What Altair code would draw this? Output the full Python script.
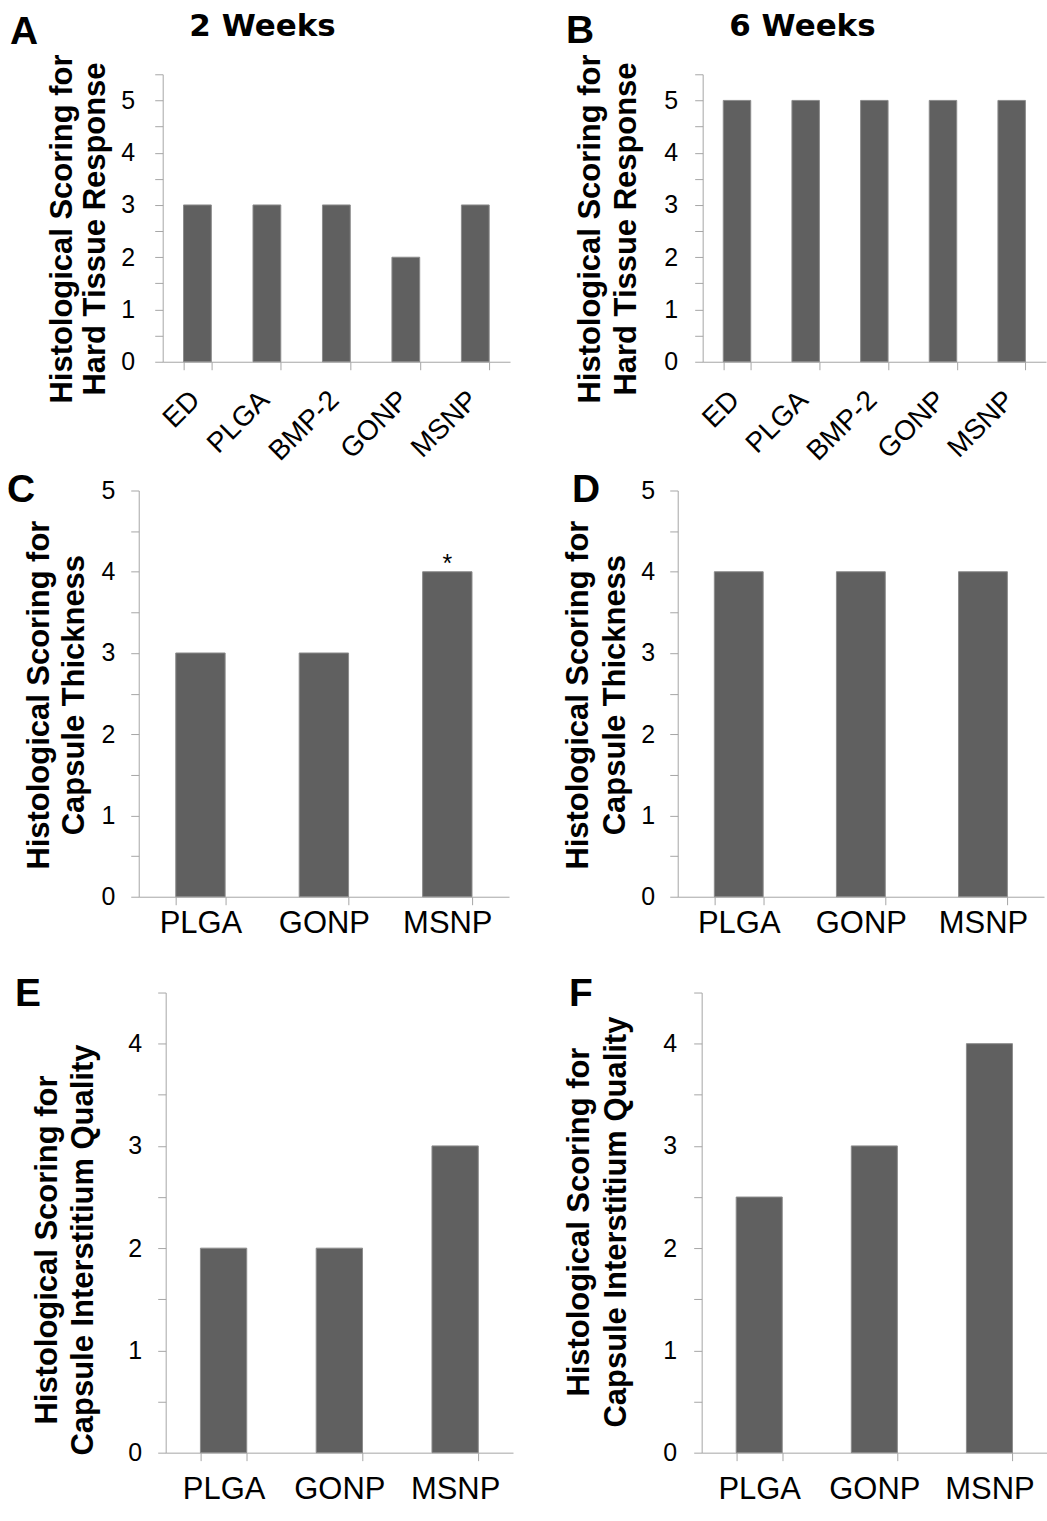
import altair as alt
import pandas as pd

# ---- data ----
cats5 = ["ED", "PLGA", "BMP-2", "GONP", "MSNP"]
cats3 = ["PLGA", "GONP", "MSNP"]
hard_2wk = [3, 3, 3, 2, 3]
hard_6wk = [5, 5, 5, 5, 5]
thick_2wk = [3, 3, 4]
thick_6wk = [4, 4, 4]
inter_2wk = [2, 2, 3]
inter_6wk = [2.5, 3, 4]
thick_2wk_sig = ["", "", "*"]

title_hard = ["Histological Scoring for", "Hard Tissue Response"]
title_thick = ["Histological Scoring for", "Capsule Thickness"]
title_inter = ["Histological Scoring for", "Capsule Interstitium Quality"]

BAR = "#606060"
BAR_EDGE = "#8c8c8c"
AXIS = "#a6a6a6"
FONT = "Liberation Sans"
HEAD_FONT = "DejaVu Sans"


def panel(cats, vals, letter, ytitle, ymax, w, h, letter_x, letter_y,
          line_x, title_y, ylab_pad, xlab_size, angle, xlab_pad,
          heading=None, heading_x=0, sig=None, inset=0):
    df = pd.DataFrame({"cat": cats, "val": vals})
    if sig is not None:
        df["sig"] = sig
    ticks = [i * 0.5 for i in range(int(round(ymax * 2)) + 1)]
    xscale = alt.Scale(paddingInner=0.6, paddingOuter=0.3, range=[inset, w])
    yscale = alt.Scale(domain=[0, ymax], nice=False)
    xaxis = alt.Axis(
        labelAngle=angle,
        labelAlign="right" if angle else "center",
        labelBaseline="top",
        labelOffset=-12 if angle else 0,
        labelFontSize=xlab_size, labelFont=FONT, labelColor="black",
        labelPadding=xlab_pad, tickBand="extent", tickSize=8,
        domainColor=AXIS, tickColor=AXIS, labelOverlap=False,
    )
    yaxis = alt.Axis(
        values=ticks,
        labelExpr="datum.value % 1 == 0 ? format(datum.value, 'd') : ''",
        grid=False, tickSize=8, labelPadding=ylab_pad, offset=-inset,
        labelFontSize=25, labelFont=FONT, labelColor="black",
        domainColor=AXIS, tickColor=AXIS, title=None,
    )
    bars = alt.Chart(df).mark_bar(
        color=BAR, stroke=BAR_EDGE, strokeWidth=1
    ).encode(
        x=alt.X("cat:N", sort=cats, title=None, scale=xscale, axis=xaxis),
        y=alt.Y("val:Q", scale=yscale, axis=yaxis),
    )
    layers = [bars]
    if sig is not None:
        stars = alt.Chart(df).mark_text(
            baseline="alphabetic", fontSize=25, font=FONT, color="black"
        ).encode(
            x=alt.X("cat:N", sort=cats, scale=xscale),
            y=alt.Y("val:Q", scale=yscale),
            text="sig:N",
        )
        layers.append(stars)
    for line, lx in zip(ytitle, line_x):
        tdf = pd.DataFrame({"t": [line]})
        layers.append(
            alt.Chart(tdf).mark_text(
                angle=270, align="center", baseline="middle", fontSize=31,
                fontWeight="bold", font=FONT, color="black",
            ).encode(text="t:N", x=alt.value(lx), y=alt.value(title_y))
        )
    letter_df = pd.DataFrame({"t": [letter]})
    layers.append(
        alt.Chart(letter_df).mark_text(
            align="left", baseline="alphabetic", fontSize=39,
            fontWeight="bold", font=FONT, color="black",
        ).encode(text="t:N", x=alt.value(letter_x), y=alt.value(letter_y))
    )
    if heading:
        head_df = pd.DataFrame({"t": [heading]})
        layers.append(
            alt.Chart(head_df).mark_text(
                align="center", baseline="alphabetic", fontSize=31,
                fontWeight="bold", font=HEAD_FONT, color="black",
            ).encode(text="t:N", x=alt.value(heading_x), y=alt.value(-38))
        )
    return alt.layer(*layers).properties(width=w, height=h)


# left column: all plot origins share x = 139; A and E are inset
A = panel(cats5, hard_2wk, "A", title_hard, 5.5, 372, 288, -129, -30,
          [-75.5, -43], 155, 20, 28, -45, 16, heading="2 Weeks",
          heading_x=124, inset=24)
B = panel(cats5, hard_6wk, "B", title_hard, 5.5, 344, 288, -137, -31,
          [-112, -75.5], 155, 17, 28, -45, 16, heading="6 Weeks",
          heading_x=100)
C = panel(cats3, thick_2wk, "C", title_thick, 5, 371, 407, -132, 12,
          [-99, -63.5], 205, 16, 31, 0, 4, sig=thick_2wk_sig)
D = panel(cats3, thick_6wk, "D", title_thick, 5, 367, 407, -106, 12,
          [-99, -61.5], 205, 15, 31, 0, 4)
E = panel(cats3, inter_2wk, "E", title_inter, 4.5, 375, 461, -124, 13,
          [-90.5, -54.5], 258, 16, 31, 0, 14, inset=27)
F = panel(cats3, inter_6wk, "F", title_inter, 4.5, 346, 461, -133, 13,
          [-121.5, -85], 230, 17, 31, 0, 14)

row1 = alt.hconcat(A, B, spacing=56)
row2 = alt.hconcat(C, D, spacing=54)
row3 = alt.hconcat(E, F, spacing=51)

chart = alt.vconcat(row1, alt.vconcat(row2, row3, spacing=36), spacing=5).properties(
    padding={"left": 7, "top": 10, "right": 0, "bottom": 0},
    background="white",
).configure_view(stroke=None)

chart.save("out.html", embed_options={"renderer": "svg", "actions": False})
